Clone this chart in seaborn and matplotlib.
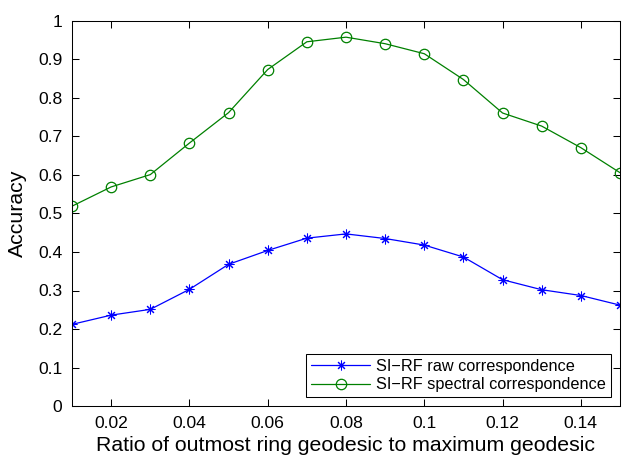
import numpy as np
import pandas as pd
import matplotlib
matplotlib.use("Agg")
import matplotlib.pyplot as plt
import seaborn as sns
from matplotlib.ticker import FormatStrFormatter, MultipleLocator

## values
ratio = [0.01, 0.02, 0.03, 0.04, 0.05, 0.06, 0.07, 0.08,
         0.09, 0.10, 0.11, 0.12, 0.13, 0.14, 0.15]
raw_acc = [0.212, 0.236, 0.251, 0.303, 0.368, 0.404, 0.436, 0.447,
           0.435, 0.418, 0.387, 0.328, 0.302, 0.287, 0.262]
spectral_acc = [0.519, 0.569, 0.601, 0.683, 0.762, 0.874, 0.946, 0.958,
                0.941, 0.915, 0.848, 0.761, 0.727, 0.671, 0.606]

raw_name = "SI\u2212RF raw correspondence"
spec_name = "SI\u2212RF spectral correspondence"

raw_df = pd.DataFrame({"ratio": ratio, "acc": raw_acc})
spec_df = pd.DataFrame({"ratio": ratio, "acc": spectral_acc})

BLUE = (0, 0, 1)
GREEN = (0, 0.5, 0)

sns.set_style("ticks")
plt.rcParams["font.family"] = ["Liberation Sans", "DejaVu Sans"]
plt.rcParams["xtick.direction"] = "in"
plt.rcParams["ytick.direction"] = "in"
plt.rcParams["text.color"] = "black"
plt.rcParams["axes.labelcolor"] = "black"
plt.rcParams["xtick.color"] = "black"
plt.rcParams["ytick.color"] = "black"

fig = plt.figure(figsize=(6.22, 4.63), dpi=100)
ax = fig.add_axes([72 / 622, 57 / 463, 548 / 622, 385 / 463])

sns.lineplot(data=raw_df, x="ratio", y="acc", color=BLUE,
             marker=(8, 2, 0), markersize=7, markeredgewidth=0.75,
             markeredgecolor=BLUE, linewidth=0.9, ax=ax, label=raw_name)
sns.lineplot(data=spec_df, x="ratio", y="acc", color=GREEN,
             marker="o", markersize=7.5, markerfacecolor="none",
             markeredgecolor=GREEN, markeredgewidth=0.9,
             linewidth=0.9, ax=ax, label=spec_name)

ax.set_xlim(0.01, 0.15)
ax.set_ylim(0, 1)
ax.xaxis.set_major_locator(MultipleLocator(0.02))
ax.yaxis.set_major_locator(MultipleLocator(0.1))
ax.xaxis.set_major_formatter(FormatStrFormatter("%g"))
ax.yaxis.set_major_formatter(FormatStrFormatter("%g"))
ax.tick_params(labelsize=12.6, length=5, width=0.75, top=True, right=True, pad=7)
for s in ax.spines.values():
    s.set_visible(True)
    s.set_linewidth(0.75)
    s.set_color("black")

ax.set_xlabel("Ratio of outmost ring geodesic to maximum geodesic", fontsize=15.3, labelpad=4)
ax.set_ylabel("Accuracy", fontsize=15.3, labelpad=8)

leg = ax.legend(loc="lower right", fontsize=11.7, handlelength=3.6, fancybox=False,
                framealpha=1, borderaxespad=0.55, labelspacing=0.2,
                borderpad=0.3, handletextpad=0.4)
leg.get_frame().set_edgecolor("black")
leg.get_frame().set_linewidth(0.75)

fig.savefig("out.png", dpi=100)
